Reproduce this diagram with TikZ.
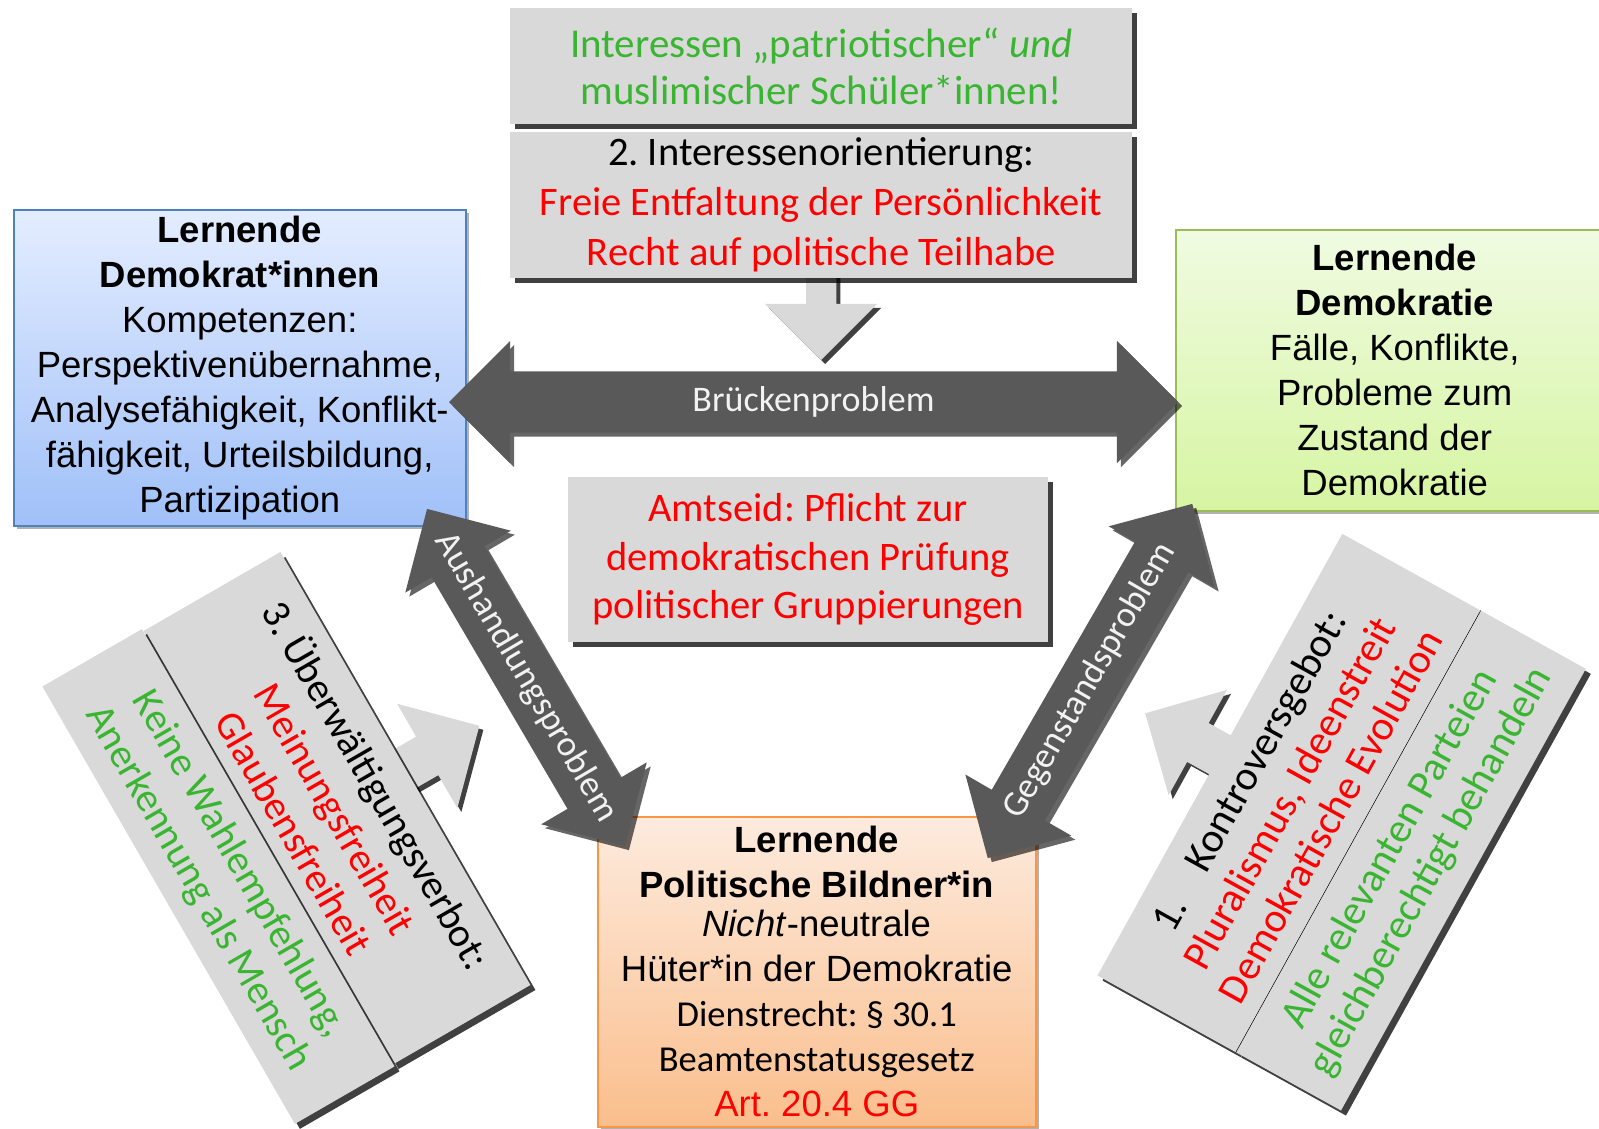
\documentclass[tikz,border=0pt]{standalone}
\usepackage{fontspec}
\setmainfont{Carlito}
\newfontfamily\calibrifont{Carlito}
\newfontfamily\arialfont{Liberation Sans}
\usepackage{xcolor}
\usepackage{tikz}
\usetikzlibrary{positioning,calc,shapes.arrows,shadows,backgrounds}
\definecolor{boxgray}{RGB}{217,217,217}
\definecolor{arrowgray}{RGB}{89,89,89}
\definecolor{arrowtext}{RGB}{242,242,242}
\definecolor{textgreen}{RGB}{58,181,50}
\definecolor{textred}{RGB}{255,0,0}
\definecolor{blueTop}{RGB}{228,237,255}
\definecolor{blueBottom}{RGB}{160,192,248}
\definecolor{blueBorder}{RGB}{79,129,189}
\definecolor{greenTop}{RGB}{240,251,226}
\definecolor{greenBottom}{RGB}{214,245,162}
\definecolor{greenBorder}{RGB}{155,187,89}
\definecolor{orangeTop}{RGB}{253,235,222}
\definecolor{orangeBottom}{RGB}{250,190,140}
\definecolor{orangeBorder}{RGB}{247,150,70}
\frenchspacing

\begin{document}
\begin{tikzpicture}[
		x=1pt,y=-1pt,
		graybox/.style={fill=boxgray, align=center, inner sep=0pt,
			font=\calibrifont\fontsize{41}{48}\selectfont,
			drop shadow={fill=black, shadow xshift=5pt, shadow yshift=-5pt, opacity=0.75}},
		lernbox/.style={draw, line width=1.5pt, align=center, inner sep=0pt,
			font=\arialfont\fontsize{36.5}{45}\selectfont,
			drop shadow={fill=black, shadow xshift=3pt, shadow yshift=-3pt, opacity=0.3}},
		sidebox/.style={fill=boxgray, align=center, inner sep=0pt,
			font=\calibrifont\fontsize{40.5}{48}\selectfont,
			drop shadow={fill=black, shadow xshift=5pt, shadow yshift=-5pt, opacity=0.75}},
		bigarrow/.style={double arrow, fill=arrowgray, text height=0pt, text depth=0pt,
			inner xsep=0pt, inner ysep=30.5pt, double arrow head extend=30.5pt,
			drop shadow={fill=black, shadow xshift=4pt, shadow yshift=-4pt, opacity=0.6}},
		arrowlabel/.style={text=arrowtext, inner sep=0pt, font=\calibrifont\fontsize{36}{40}\selectfont},
		lightarrow/.style={single arrow, fill=boxgray, text height=0pt, text depth=0pt,
			inner xsep=0pt, drop shadow={fill=black, shadow xshift=4pt, shadow yshift=-4pt, opacity=0.75}}
		]
		\path[use as bounding box] (0,0) rectangle (1599,1128);
		
		% ====== OBEN: GRAUE KÄSTEN ======
		\node[graybox, anchor=north west, minimum width=622pt, minimum height=116pt,
			text=textgreen, font=\calibrifont\fontsize{41}{47}\selectfont] (top1) at (510,8)
		{Interessen „patriotischer“ \textit{und}\\
			muslimischer Schüler*innen!};
		
		\node[graybox, below=7pt of top1, minimum width=622pt, minimum height=146pt,
			font=\calibrifont\fontsize{40.5}{50}\selectfont] (top2)
		{2. Interessenorientierung:\\
			\textcolor{textred}{Freie Entfaltung der Persönlichkeit}\\
			\textcolor{textred}{Recht auf politische Teilhabe}};
		
		\node[graybox, anchor=north west, minimum width=480pt, minimum height=165pt,
			text=textred, font=\calibrifont\fontsize{40.5}{48.5}\selectfont] (amtseid) at (568,477)
		{Amtseid: Pflicht zur\\ demokratischen Prüfung\\ politischer Gruppierungen};
		
		% ====== LERNENDE (blau, grün, orange) ======
		\node[lernbox, anchor=north west, minimum width=452pt, minimum height=316pt,
			draw=blueBorder, top color=blueTop, bottom color=blueBottom] (demokraten) at (13,209)
		{\textbf{Lernende}\\ \textbf{Demokrat*innen}\\ Kompetenzen:\\ Perspektivenübernahme,\\
			Analysefähigkeit, Konflikt-\\ fähigkeit, Urteilsbildung,\\ Partizipation};
		
		\node[lernbox, anchor=north west, minimum width=438pt, minimum height=281pt,
			draw=greenBorder, top color=greenTop, bottom color=greenBottom] (demokratie) at (1175,229)
		{\textbf{Lernende}\\ \textbf{Demokratie}\\ Fälle, Konflikte,\\ Probleme zum\\
			Zustand der\\ Demokratie};
		
		\node[lernbox, anchor=north west, minimum width=438pt, minimum height=310pt,
			draw=orangeBorder, top color=orangeTop, bottom color=orangeBottom] (bildner) at (597,816)
		{\textbf{Lernende}\\ \textbf{Politische Bildner*in}\\[-6pt] \textit{Nicht}-neutrale\\
			Hüter*in der Demokratie\\ {\calibrifont Dienstrecht: § 30.1}\\
			{\calibrifont Beamtenstatusgesetz}\\ \textcolor{textred}{Art. 20.4 GG}};
		
		% ====== DUNKLE PFEILE ======
		\node[bigarrow, minimum height=729pt] (bruecke) at (813.5,402) {};
		\node[arrowlabel] (brueckeText) at (bruecke.center) {Brückenproblem};
		
		\node[bigarrow, minimum height=391pt, rotate=-59.6] (aushandlung) at (526,677.5) {};
		\node[arrowlabel, rotate=-59.6] (aushandlungText) at (aushandlung.center) {Aushandlungsproblem};
		
		\node[bigarrow, minimum height=409pt, rotate=60] (gegenstand) at (1090,681) {};
		\node[arrowlabel, rotate=60] (gegenstandText) at (gegenstand.center) {Gegenstandsproblem};
		
		% ====== LINKS: 3. ÜBERWÄLTIGUNGSVERBOT ======
		\node[sidebox, minimum width=500pt, minimum height=158pt, rotate=-60] (ueberw) at (337,808)
		{3. Überwältigungsverbot:\\ \textcolor{textred}{Meinungsfreiheit}\\
			\textcolor{textred}{Glaubensfreiheit}};
		
		\node[sidebox, minimum width=505pt, minimum height=115pt, rotate=-60, anchor=north,
			text=textgreen] (keine) at (ueberw.south)
		{Keine Wahlempfehlung,\\ Anerkennung als Mensch};
		
		% ====== RECHTS: 1. KONTROVERSGEBOT ======
		\node[sidebox, minimum width=505pt, minimum height=158pt, rotate=61,
			font=\calibrifont\fontsize{41.5}{47}\selectfont] (kontro) at (1289,793)
		{1.\hspace{27pt} Kontroversgebot:\\ \textcolor{textred}{Pluralismus, Ideenstreit}\\
			\textcolor{textred}{Demokratische Evolution}};
		
		\node[sidebox, minimum width=505pt, minimum height=120pt, rotate=61, anchor=north,
			text=textgreen, font=\calibrifont\fontsize{41.5}{47}\selectfont] (alle) at (kontro.south)
		{Alle relevanten Parteien\\ gleichberechtigt behandeln};
		
		\draw[thin] (kontro.south west) -- (kontro.south east);
		
		% ====== HELLE PFEILE (hinter den Kästen) ======
		\begin{pgfonlayer}{background}
			\node[lightarrow, inner ysep=15pt, single arrow head extend=41pt, minimum height=87pt,
				rotate=-90, anchor=tail] (pfeilOben) at ([yshift=5pt]top2.south) {};
			\node[lightarrow, inner ysep=22pt, single arrow head extend=38pt, minimum height=105pt,
				rotate=30, anchor=tail] (pfeilLinks) at ($(ueberw.north)!20pt!(ueberw.center)$) {};
			\node[lightarrow, inner ysep=22pt, single arrow head extend=38pt, minimum height=105pt,
				rotate=151, anchor=tail] (pfeilRechts) at ($(kontro.north)!20pt!(kontro.center)$) {};
		\end{pgfonlayer}
		
\end{tikzpicture}
\end{document}
